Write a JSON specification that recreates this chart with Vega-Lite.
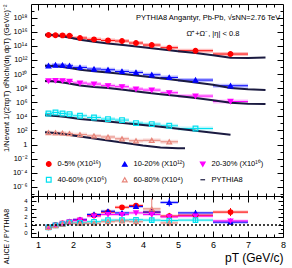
{
"$schema": "https://vega.github.io/schema/vega-lite/v6.json",
"autosize": {"type": "pad"},
"padding": {"left": 1, "top": 3, "right": 0, "bottom": 0},
"bounds": "flush",
"spacing": 0,
"background": "white",
"resolve": {"scale": {"color": "independent", "fill": "independent", "stroke": "independent", "shape": "independent", "size": "independent"}, "legend": {"color": "independent", "fill": "independent", "stroke": "independent", "shape": "independent", "size": "independent"}},
"config": {
  "view": {"stroke": "black", "strokeWidth": 1},
  "font": "Liberation Sans",
  "axis": {"domain": false, "grid": false, "labelFont": "Liberation Sans", "titleFont": "Liberation Sans", "tickColor": "black", "labelColor": "black", "titleColor": "black", "titleFontWeight": "normal", "tickWidth": 1}
},
"datasets": {
  "spec": [
    {"s": "0-5% (X10¹⁶)", "x": 1.3, "lo": 1.2, "hi": 1.4, "v": 3.4e15},
    {"s": "0-5% (X10¹⁶)", "x": 1.5, "lo": 1.4, "hi": 1.6, "v": 3.19e15},
    {"s": "0-5% (X10¹⁶)", "x": 1.7, "lo": 1.6, "hi": 1.8, "v": 2.99e15},
    {"s": "0-5% (X10¹⁶)", "x": 1.9, "lo": 1.8, "hi": 2.0, "v": 2.71e15},
    {"s": "0-5% (X10¹⁶)", "x": 2.2, "lo": 2.0, "hi": 2.4, "v": 1.28e15},
    {"s": "0-5% (X10¹⁶)", "x": 2.6, "lo": 2.4, "hi": 2.8, "v": 8.09e14},
    {"s": "0-5% (X10¹⁶)", "x": 3.0, "lo": 2.8, "hi": 3.2, "v": 5.84e14},
    {"s": "0-5% (X10¹⁶)", "x": 3.4, "lo": 3.2, "hi": 3.6, "v": 4.8e14},
    {"s": "0-5% (X10¹⁶)", "x": 3.8, "lo": 3.6, "hi": 4.0, "v": 2.5e14},
    {"s": "0-5% (X10¹⁶)", "x": 4.25, "lo": 4.0, "hi": 4.5, "v": 1.3e14},
    {"s": "0-5% (X10¹⁶)", "x": 4.75, "lo": 4.5, "hi": 5.0, "v": 5.37e13},
    {"s": "0-5% (X10¹⁶)", "x": 5.5, "lo": 5.0, "hi": 6.0, "v": 2.02e13},
    {"s": "0-5% (X10¹⁶)", "x": 6.5, "lo": 6.0, "hi": 7.0, "v": 6.87e12},
    {"s": "10-20% (X10¹²)", "x": 1.3, "lo": 1.2, "hi": 1.4, "v": 1.5e11},
    {"s": "10-20% (X10¹²)", "x": 1.5, "lo": 1.4, "hi": 1.6, "v": 1.89e11},
    {"s": "10-20% (X10¹²)", "x": 1.7, "lo": 1.6, "hi": 1.8, "v": 1.85e11},
    {"s": "10-20% (X10¹²)", "x": 1.9, "lo": 1.8, "hi": 2.0, "v": 1.5e11},
    {"s": "10-20% (X10¹²)", "x": 2.2, "lo": 2.0, "hi": 2.4, "v": 8.63e10},
    {"s": "10-20% (X10¹²)", "x": 2.6, "lo": 2.4, "hi": 2.8, "v": 5.12e10},
    {"s": "10-20% (X10¹²)", "x": 3.0, "lo": 2.8, "hi": 3.2, "v": 4.07e10},
    {"s": "10-20% (X10¹²)", "x": 3.4, "lo": 3.2, "hi": 3.6, "v": 2.34e10},
    {"s": "10-20% (X10¹²)", "x": 3.8, "lo": 3.6, "hi": 4.0, "v": 1.69e10},
    {"s": "10-20% (X10¹²)", "x": 4.25, "lo": 4.0, "hi": 4.5, "v": 7.96e9},
    {"s": "10-20% (X10¹²)", "x": 4.75, "lo": 4.5, "hi": 5.0, "v": 3.3e9},
    {"s": "10-20% (X10¹²)", "x": 5.5, "lo": 5.0, "hi": 6.0, "v": 1.41e9},
    {"s": "10-20% (X10¹²)", "x": 6.5, "lo": 6.0, "hi": 7.0, "v": 2.19e8},
    {"s": "20-30% (X10¹⁰)", "x": 1.3, "lo": 1.2, "hi": 1.4, "v": 1.05e9},
    {"s": "20-30% (X10¹⁰)", "x": 1.5, "lo": 1.4, "hi": 1.6, "v": 1.2e9},
    {"s": "20-30% (X10¹⁰)", "x": 1.7, "lo": 1.6, "hi": 1.8, "v": 1.12e9},
    {"s": "20-30% (X10¹⁰)", "x": 1.9, "lo": 1.8, "hi": 2.0, "v": 8.9e8},
    {"s": "20-30% (X10¹⁰)", "x": 2.2, "lo": 2.0, "hi": 2.4, "v": 5.29e8},
    {"s": "20-30% (X10¹⁰)", "x": 2.6, "lo": 2.4, "hi": 2.8, "v": 3.82e8},
    {"s": "20-30% (X10¹⁰)", "x": 3.0, "lo": 2.8, "hi": 3.2, "v": 2.19e8},
    {"s": "20-30% (X10¹⁰)", "x": 3.4, "lo": 3.2, "hi": 3.6, "v": 1.58e8},
    {"s": "20-30% (X10¹⁰)", "x": 3.8, "lo": 3.6, "hi": 4.0, "v": 7.45e7},
    {"s": "20-30% (X10¹⁰)", "x": 4.25, "lo": 4.0, "hi": 4.5, "v": 5.37e7},
    {"s": "20-30% (X10¹⁰)", "x": 4.75, "lo": 4.5, "hi": 5.0, "v": 2.23e7},
    {"s": "20-30% (X10¹⁰)", "x": 5.5, "lo": 5.0, "hi": 6.0, "v": 7.57e6},
    {"s": "20-30% (X10¹⁰)", "x": 6.5, "lo": 6.0, "hi": 7.0, "v": 1.3e6},
    {"s": "40-60% (X10⁶)", "x": 1.3, "lo": 1.2, "hi": 1.4, "v": 2.58e4},
    {"s": "40-60% (X10⁶)", "x": 1.5, "lo": 1.4, "hi": 1.6, "v": 3.57e4},
    {"s": "40-60% (X10⁶)", "x": 1.7, "lo": 1.6, "hi": 1.8, "v": 2.58e4},
    {"s": "40-60% (X10⁶)", "x": 1.9, "lo": 1.8, "hi": 2.0, "v": 2.12e4},
    {"s": "40-60% (X10⁶)", "x": 2.2, "lo": 2.0, "hi": 2.4, "v": 1.22e4},
    {"s": "40-60% (X10⁶)", "x": 2.6, "lo": 2.4, "hi": 2.8, "v": 6980},
    {"s": "40-60% (X10⁶)", "x": 3.0, "lo": 2.8, "hi": 3.2, "v": 4140},
    {"s": "40-60% (X10⁶)", "x": 3.4, "lo": 3.2, "hi": 3.6, "v": 2990},
    {"s": "40-60% (X10⁶)", "x": 3.8, "lo": 3.6, "hi": 4.0, "v": 1120},
    {"s": "40-60% (X10⁶)", "x": 4.25, "lo": 4.0, "hi": 4.5, "v": 809},
    {"s": "40-60% (X10⁶)", "x": 4.75, "lo": 4.5, "hi": 5.0, "v": 464},
    {"s": "40-60% (X10⁶)", "x": 5.5, "lo": 5.0, "hi": 6.0, "v": 192},
    {"s": "60-80% (X10⁴)", "x": 1.3, "lo": 1.2, "hi": 1.4, "v": 50},
    {"s": "60-80% (X10⁴)", "x": 1.5, "lo": 1.4, "hi": 1.6, "v": 48},
    {"s": "60-80% (X10⁴)", "x": 1.7, "lo": 1.6, "hi": 1.8, "v": 42},
    {"s": "60-80% (X10⁴)", "x": 1.9, "lo": 1.8, "hi": 2.0, "v": 36},
    {"s": "60-80% (X10⁴)", "x": 2.2, "lo": 2.0, "hi": 2.4, "v": 26},
    {"s": "60-80% (X10⁴)", "x": 2.6, "lo": 2.4, "hi": 2.8, "v": 17},
    {"s": "60-80% (X10⁴)", "x": 3.0, "lo": 2.8, "hi": 3.2, "v": 12},
    {"s": "60-80% (X10⁴)", "x": 3.4, "lo": 3.2, "hi": 3.6, "v": 6.6},
    {"s": "60-80% (X10⁴)", "x": 3.8, "lo": 3.6, "hi": 4.0, "v": 3.5},
    {"s": "60-80% (X10⁴)", "x": 4.25, "lo": 4.0, "hi": 4.5, "v": 4.1},
    {"s": "60-80% (X10⁴)", "x": 4.75, "lo": 4.5, "hi": 5.0, "v": 2.5}
  ],
  "pyt": [
    {"s": "0-5% (X10¹⁶)", "x": 1.2, "v": 3.76e15}, {"s": "0-5% (X10¹⁶)", "x": 1.4, "v": 3.4e15}, {"s": "0-5% (X10¹⁶)", "x": 1.6, "v": 2.71e15}, {"s": "0-5% (X10¹⁶)", "x": 1.8, "v": 1.83e15}, {"s": "0-5% (X10¹⁶)", "x": 2.0, "v": 1.2e15}, {"s": "0-5% (X10¹⁶)", "x": 2.2, "v": 7.33e14}, {"s": "0-5% (X10¹⁶)", "x": 2.6, "v": 3.82e14}, {"s": "0-5% (X10¹⁶)", "x": 3.0, "v": 2.19e14}, {"s": "0-5% (X10¹⁶)", "x": 3.5, "v": 1.22e14}, {"s": "0-5% (X10¹⁶)", "x": 4.0, "v": 6.33e13}, {"s": "0-5% (X10¹⁶)", "x": 4.5, "v": 3.3e13}, {"s": "0-5% (X10¹⁶)", "x": 5.0, "v": 1.71e13}, {"s": "0-5% (X10¹⁶)", "x": 5.5, "v": 9.53e12}, {"s": "0-5% (X10¹⁶)", "x": 6.0, "v": 4.65e12}, {"s": "0-5% (X10¹⁶)", "x": 6.5, "v": 2.05e12}, {"s": "0-5% (X10¹⁶)", "x": 7.0, "v": 1.86e12}, {"s": "0-5% (X10¹⁶)", "x": 7.5, "v": 2.26e12},
    {"s": "10-20% (X10¹²)", "x": 1.2, "v": 1.5e11}, {"s": "10-20% (X10¹²)", "x": 1.4, "v": 1.41e11}, {"s": "10-20% (X10¹²)", "x": 1.6, "v": 1.16e11}, {"s": "10-20% (X10¹²)", "x": 1.8, "v": 8.63e10}, {"s": "10-20% (X10¹²)", "x": 2.0, "v": 6.03e10}, {"s": "10-20% (X10¹²)", "x": 2.2, "v": 4.07e10}, {"s": "10-20% (X10¹²)", "x": 2.6, "v": 2.42e10}, {"s": "10-20% (X10¹²)", "x": 3.0, "v": 1.69e10}, {"s": "10-20% (X10¹²)", "x": 3.5, "v": 9.37e9}, {"s": "10-20% (X10¹²)", "x": 4.0, "v": 4.88e9}, {"s": "10-20% (X10¹²)", "x": 4.5, "v": 2.54e9}, {"s": "10-20% (X10¹²)", "x": 5.0, "v": 1.32e9}, {"s": "10-20% (X10¹²)", "x": 5.5, "v": 6.44e8}, {"s": "10-20% (X10¹²)", "x": 6.0, "v": 3.04e8}, {"s": "10-20% (X10¹²)", "x": 6.5, "v": 1.03e8}, {"s": "10-20% (X10¹²)", "x": 7.0, "v": 6.98e7}, {"s": "10-20% (X10¹²)", "x": 7.5, "v": 5.37e7},
    {"s": "20-30% (X10¹⁰)", "x": 1.2, "v": 1.02e9}, {"s": "20-30% (X10¹⁰)", "x": 1.4, "v": 9.52e8}, {"s": "20-30% (X10¹⁰)", "x": 1.6, "v": 7.57e8}, {"s": "20-30% (X10¹⁰)", "x": 1.8, "v": 5.47e8}, {"s": "20-30% (X10¹⁰)", "x": 2.0, "v": 3.69e8}, {"s": "20-30% (X10¹⁰)", "x": 2.2, "v": 2.34e8}, {"s": "20-30% (X10¹⁰)", "x": 2.6, "v": 1.43e8}, {"s": "20-30% (X10¹⁰)", "x": 3.0, "v": 1.03e8}, {"s": "20-30% (X10¹⁰)", "x": 3.5, "v": 5.37e7}, {"s": "20-30% (X10¹⁰)", "x": 4.0, "v": 2.62e7}, {"s": "20-30% (X10¹⁰)", "x": 4.5, "v": 1.36e7}, {"s": "20-30% (X10¹⁰)", "x": 5.0, "v": 7.57e6}, {"s": "20-30% (X10¹⁰)", "x": 5.5, "v": 3.94e6}, {"s": "20-30% (X10¹⁰)", "x": 6.0, "v": 1.92e6}, {"s": "20-30% (X10¹⁰)", "x": 6.5, "v": 8.49e5}, {"s": "20-30% (X10¹⁰)", "x": 7.0, "v": 6.12e5}, {"s": "20-30% (X10¹⁰)", "x": 7.5, "v": 5.56e5},
    {"s": "40-60% (X10⁶)", "x": 1.2, "v": 1.41e4}, {"s": "40-60% (X10⁶)", "x": 1.4, "v": 1.27e4}, {"s": "40-60% (X10⁶)", "x": 1.6, "v": 1.05e4}, {"s": "40-60% (X10⁶)", "x": 1.8, "v": 8050}, {"s": "40-60% (X10⁶)", "x": 2.0, "v": 5810}, {"s": "40-60% (X10⁶)", "x": 2.2, "v": 4190}, {"s": "40-60% (X10⁶)", "x": 2.6, "v": 2800}, {"s": "40-60% (X10⁶)", "x": 3.0, "v": 1890}, {"s": "40-60% (X10⁶)", "x": 3.5, "v": 1050}, {"s": "40-60% (X10⁶)", "x": 4.0, "v": 583}, {"s": "40-60% (X10⁶)", "x": 4.5, "v": 335}, {"s": "40-60% (X10⁶)", "x": 5.0, "v": 174}, {"s": "40-60% (X10⁶)", "x": 5.5, "v": 90.6}, {"s": "40-60% (X10⁶)", "x": 6.0, "v": 47.2}, {"s": "40-60% (X10⁶)", "x": 6.5, "v": 24.5},
    {"s": "60-80% (X10⁴)", "x": 1.2, "v": 55.6}, {"s": "60-80% (X10⁴)", "x": 1.4, "v": 47.2}, {"s": "60-80% (X10⁴)", "x": 1.6, "v": 36.3}, {"s": "60-80% (X10⁴)", "x": 1.8, "v": 26.2}, {"s": "60-80% (X10⁴)", "x": 2.0, "v": 18.9}, {"s": "60-80% (X10⁴)", "x": 2.2, "v": 13.6}, {"s": "60-80% (X10⁴)", "x": 2.6, "v": 7.1}, {"s": "60-80% (X10⁴)", "x": 3.0, "v": 3.69}, {"s": "60-80% (X10⁴)", "x": 3.5, "v": 1.75}, {"s": "60-80% (X10⁴)", "x": 4.0, "v": 0.776}, {"s": "60-80% (X10⁴)", "x": 4.5, "v": 0.404}, {"s": "60-80% (X10⁴)", "x": 5.0, "v": 0.299}, {"s": "60-80% (X10⁴)", "x": 5.2, "v": 0.299}
  ],
  "ratio": [
    {"s": "0-5% (X10¹⁶)", "x": 1.3, "lo": 1.2, "hi": 1.4, "r": 0.7, "e": 0.06},
    {"s": "0-5% (X10¹⁶)", "x": 1.5, "lo": 1.4, "hi": 1.6, "r": 1.0, "e": 0.07},
    {"s": "0-5% (X10¹⁶)", "x": 1.7, "lo": 1.6, "hi": 1.8, "r": 1.2, "e": 0.08},
    {"s": "0-5% (X10¹⁶)", "x": 1.9, "lo": 1.8, "hi": 2.0, "r": 1.4, "e": 0.1},
    {"s": "0-5% (X10¹⁶)", "x": 2.2, "lo": 2.0, "hi": 2.4, "r": 1.6, "e": 0.1},
    {"s": "0-5% (X10¹⁶)", "x": 2.6, "lo": 2.4, "hi": 2.8, "r": 2.2, "e": 0.15},
    {"s": "0-5% (X10¹⁶)", "x": 3.0, "lo": 2.8, "hi": 3.2, "r": 2.6, "e": 0.2},
    {"s": "0-5% (X10¹⁶)", "x": 3.4, "lo": 3.2, "hi": 3.6, "r": 3.2, "e": 0.25},
    {"s": "0-5% (X10¹⁶)", "x": 3.8, "lo": 3.6, "hi": 4.0, "r": 3.4, "e": 0.3},
    {"s": "0-5% (X10¹⁶)", "x": 4.25, "lo": 4.0, "hi": 4.5, "r": 2.6, "e": 0.35},
    {"s": "0-5% (X10¹⁶)", "x": 4.75, "lo": 4.5, "hi": 5.0, "r": 2.1, "e": 0.4},
    {"s": "0-5% (X10¹⁶)", "x": 5.5, "lo": 5.0, "hi": 6.0, "r": 2.2, "e": 0.35},
    {"s": "0-5% (X10¹⁶)", "x": 6.5, "lo": 6.0, "hi": 7.0, "r": 2.6, "e": 0.5},
    {"s": "10-20% (X10¹²)", "x": 1.3, "lo": 1.2, "hi": 1.4, "r": 0.68, "e": 0.05},
    {"s": "10-20% (X10¹²)", "x": 1.5, "lo": 1.4, "hi": 1.6, "r": 0.98, "e": 0.06},
    {"s": "10-20% (X10¹²)", "x": 1.7, "lo": 1.6, "hi": 1.8, "r": 1.15, "e": 0.07},
    {"s": "10-20% (X10¹²)", "x": 1.9, "lo": 1.8, "hi": 2.0, "r": 1.4, "e": 0.08},
    {"s": "10-20% (X10¹²)", "x": 2.2, "lo": 2.0, "hi": 2.4, "r": 1.65, "e": 0.1},
    {"s": "10-20% (X10¹²)", "x": 2.6, "lo": 2.4, "hi": 2.8, "r": 2.3, "e": 0.15},
    {"s": "10-20% (X10¹²)", "x": 3.0, "lo": 2.8, "hi": 3.2, "r": 2.7, "e": 0.2},
    {"s": "10-20% (X10¹²)", "x": 3.4, "lo": 3.2, "hi": 3.6, "r": 2.5, "e": 0.2},
    {"s": "10-20% (X10¹²)", "x": 3.8, "lo": 3.6, "hi": 4.0, "r": 3.3, "e": 0.25},
    {"s": "10-20% (X10¹²)", "x": 4.25, "lo": 4.0, "hi": 4.5, "r": 2.6, "e": 0.3},
    {"s": "10-20% (X10¹²)", "x": 4.75, "lo": 4.5, "hi": 5.0, "r": 3.8, "e": 0.5},
    {"s": "10-20% (X10¹²)", "x": 5.5, "lo": 5.0, "hi": 6.0, "r": 2.5, "e": 0.35},
    {"s": "10-20% (X10¹²)", "x": 6.5, "lo": 6.0, "hi": 7.0, "r": 1.35, "e": 0.3},
    {"s": "20-30% (X10¹⁰)", "x": 1.3, "lo": 1.2, "hi": 1.4, "r": 0.7, "e": 0.05},
    {"s": "20-30% (X10¹⁰)", "x": 1.5, "lo": 1.4, "hi": 1.6, "r": 0.95, "e": 0.06},
    {"s": "20-30% (X10¹⁰)", "x": 1.7, "lo": 1.6, "hi": 1.8, "r": 1.2, "e": 0.07},
    {"s": "20-30% (X10¹⁰)", "x": 1.9, "lo": 1.8, "hi": 2.0, "r": 1.4, "e": 0.08},
    {"s": "20-30% (X10¹⁰)", "x": 2.2, "lo": 2.0, "hi": 2.4, "r": 1.6, "e": 0.1},
    {"s": "20-30% (X10¹⁰)", "x": 2.6, "lo": 2.4, "hi": 2.8, "r": 2.1, "e": 0.15},
    {"s": "20-30% (X10¹⁰)", "x": 3.0, "lo": 2.8, "hi": 3.2, "r": 2.3, "e": 0.2},
    {"s": "20-30% (X10¹⁰)", "x": 3.4, "lo": 3.2, "hi": 3.6, "r": 2.3, "e": 0.2},
    {"s": "20-30% (X10¹⁰)", "x": 3.8, "lo": 3.6, "hi": 4.0, "r": 2.5, "e": 0.25},
    {"s": "20-30% (X10¹⁰)", "x": 4.25, "lo": 4.0, "hi": 4.5, "r": 2.3, "e": 0.3},
    {"s": "20-30% (X10¹⁰)", "x": 4.75, "lo": 4.5, "hi": 5.0, "r": 2.0, "e": 0.35},
    {"s": "20-30% (X10¹⁰)", "x": 5.5, "lo": 5.0, "hi": 6.0, "r": 2.1, "e": 0.3},
    {"s": "20-30% (X10¹⁰)", "x": 6.5, "lo": 6.0, "hi": 7.0, "r": 1.5, "e": 0.35},
    {"s": "40-60% (X10⁶)", "x": 1.3, "lo": 1.2, "hi": 1.4, "r": 0.7, "e": 0.05},
    {"s": "40-60% (X10⁶)", "x": 1.5, "lo": 1.4, "hi": 1.6, "r": 0.95, "e": 0.06},
    {"s": "40-60% (X10⁶)", "x": 1.7, "lo": 1.6, "hi": 1.8, "r": 1.1, "e": 0.07},
    {"s": "40-60% (X10⁶)", "x": 1.9, "lo": 1.8, "hi": 2.0, "r": 1.3, "e": 0.08},
    {"s": "40-60% (X10⁶)", "x": 2.2, "lo": 2.0, "hi": 2.4, "r": 1.25, "e": 0.1},
    {"s": "40-60% (X10⁶)", "x": 2.6, "lo": 2.4, "hi": 2.8, "r": 1.4, "e": 0.12},
    {"s": "40-60% (X10⁶)", "x": 3.0, "lo": 2.8, "hi": 3.2, "r": 1.6, "e": 0.15},
    {"s": "40-60% (X10⁶)", "x": 3.4, "lo": 3.2, "hi": 3.6, "r": 1.6, "e": 0.2},
    {"s": "40-60% (X10⁶)", "x": 3.8, "lo": 3.6, "hi": 4.0, "r": 1.65, "e": 0.25},
    {"s": "40-60% (X10⁶)", "x": 4.25, "lo": 4.0, "hi": 4.5, "r": 1.6, "e": 0.3},
    {"s": "40-60% (X10⁶)", "x": 4.75, "lo": 4.5, "hi": 5.0, "r": 1.55, "e": 0.3},
    {"s": "40-60% (X10⁶)", "x": 5.5, "lo": 5.0, "hi": 6.0, "r": 1.6, "e": 0.3},
    {"s": "60-80% (X10⁴)", "x": 1.3, "lo": 1.2, "hi": 1.4, "r": 0.7, "e": 0.06},
    {"s": "60-80% (X10⁴)", "x": 1.5, "lo": 1.4, "hi": 1.6, "r": 0.9, "e": 0.07},
    {"s": "60-80% (X10⁴)", "x": 1.7, "lo": 1.6, "hi": 1.8, "r": 1.1, "e": 0.08},
    {"s": "60-80% (X10⁴)", "x": 1.9, "lo": 1.8, "hi": 2.0, "r": 1.3, "e": 0.1},
    {"s": "60-80% (X10⁴)", "x": 2.2, "lo": 2.0, "hi": 2.4, "r": 1.2, "e": 0.1},
    {"s": "60-80% (X10⁴)", "x": 2.6, "lo": 2.4, "hi": 2.8, "r": 1.2, "e": 0.15},
    {"s": "60-80% (X10⁴)", "x": 3.0, "lo": 2.8, "hi": 3.2, "r": 1.4, "e": 0.2},
    {"s": "60-80% (X10⁴)", "x": 3.4, "lo": 3.2, "hi": 3.6, "r": 1.5, "e": 0.25},
    {"s": "60-80% (X10⁴)", "x": 3.8, "lo": 3.6, "hi": 4.0, "r": 1.4, "e": 0.3},
    {"s": "60-80% (X10⁴)", "x": 4.25, "lo": 4.0, "hi": 4.5, "r": 3.0, "e": 1.3},
    {"s": "60-80% (X10⁴)", "x": 4.75, "lo": 4.5, "hi": 5.0, "r": 1.25, "e": 0.4}
  ]
},
"vconcat": [
  {
    "width": 252, "height": 192,
    "resolve": {"axis": {"x": "independent", "y": "independent"}},
    "layer": [
      {
        "data": {"name": "spec"},
        "mark": {"type": "rect", "height": 4, "opacity": 0.25},
        "encoding": {
          "x": {"field": "lo", "type": "quantitative", "scale": {"domain": [0.8, 8], "nice": false, "zero": false}, "axis": {"orient": "bottom", "values": [1, 2, 3, 4, 5, 6, 7], "labels": false, "tickSize": -6, "title": null}},
          "x2": {"field": "hi"},
          "y": {"field": "v", "type": "quantitative", "scale": {"type": "log", "domain": [5.2e-8, 8.5e19], "nice": false},
            "axis": {"orient": "left", "values": [1e-6, 1e-4, 0.01, 1, 100, 1e4, 1e6, 1e8, 1e10, 1e12, 1e14, 1e16, 1e18, 1e19], "ticks": false, "labelPadding": 4, "labelFontSize": 7.5,
              "labelExpr": "datum.value == 1 ? '1' : '10' + replace(replace(replace(replace(replace(replace(replace(replace(replace(replace(replace('' + round(log(datum.value) / LN10), '-', '⁻'), '0', '⁰'), '1', '¹'), '2', '²'), '3', '³'), '4', '⁴'), '5', '⁵'), '6', '⁶'), '7', '⁷'), '8', '⁸'), '9', '⁹')",
              "title": "1/Nevent 1/(2πpT) d²Nch/(dη dpT) (GeV/c)⁻²", "titleFontSize": 7.5, "titleAngle": -90, "titleX": -25, "titleY": 0, "titleAlign": "right", "titleBaseline": "middle"}},
          "color": {"field": "s", "type": "nominal", "legend": null, "scale": {"domain": ["0-5% (X10¹⁶)", "10-20% (X10¹²)", "20-30% (X10¹⁰)", "40-60% (X10⁶)", "60-80% (X10⁴)"], "range": ["#ff0000", "#0000ff", "#ff00ff", "#00e0f0", "#e8857a"]}}
        }
      },
      {
        "data": {"name": "spec"},
        "mark": {"type": "rule", "strokeWidth": 1},
        "encoding": {
          "x": {"field": "lo", "type": "quantitative", "axis": {"orient": "top", "values": [1, 2, 3, 4, 5, 6, 7], "labels": false, "tickSize": -6, "title": null}},
          "x2": {"field": "hi"},
          "y": {"field": "v", "type": "quantitative", "axis": {"orient": "left", "values": [1e-6, 1e-4, 0.01, 1, 100, 1e4, 1e6, 1e8, 1e10, 1e12, 1e14, 1e16, 1e18], "labels": false, "tickSize": -6, "title": null}},
          "color": {"field": "s", "type": "nominal", "legend": null}
        }
      },
      {
        "data": {"name": "pyt"},
        "mark": {"type": "line", "strokeWidth": 2, "color": "#1a1a40"},
        "encoding": {
          "x": {"field": "x", "type": "quantitative", "axis": {"orient": "bottom", "values": [1.25, 1.5, 1.75, 2.25, 2.5, 2.75, 3.25, 3.5, 3.75, 4.25, 4.5, 4.75, 5.25, 5.5, 5.75, 6.25, 6.5, 6.75, 7.25, 7.5, 7.75], "labels": false, "tickSize": -3, "title": null}},
          "y": {"field": "v", "type": "quantitative", "axis": {"orient": "left", "values": [1e-7, 1e-5, 0.001, 0.1, 10, 1000, 1e5, 1e7, 1e9, 1e11, 1e13, 1e15, 1e17, 1e19], "labels": false, "tickSize": -3, "title": null}},
          "detail": {"field": "s"},
          "order": {"field": "x", "type": "quantitative"}
        }
      },
      {
        "data": {"name": "spec"},
        "mark": {"type": "point", "strokeWidth": 1.2, "opacity": 1},
        "encoding": {
          "x": {"field": "x", "type": "quantitative", "axis": {"orient": "top", "values": [1.25, 1.5, 1.75, 2.25, 2.5, 2.75, 3.25, 3.5, 3.75, 4.25, 4.5, 4.75, 5.25, 5.5, 5.75, 6.25, 6.5, 6.75, 7.25, 7.5, 7.75], "labels": false, "tickSize": -3, "title": null}},
          "y": {"field": "v", "type": "quantitative", "axis": {"orient": "right", "values": [1e-6, 1e-4, 0.01, 1, 100, 1e4, 1e6, 1e8, 1e10, 1e12, 1e14, 1e16, 1e18], "labels": false, "tickSize": -6, "title": null}},
          "fill": {"field": "s", "type": "nominal", "scale": {"domain": ["0-5% (X10¹⁶)", "10-20% (X10¹²)", "20-30% (X10¹⁰)", "40-60% (X10⁶)", "60-80% (X10⁴)", "PYTHIA8"], "range": ["#ff0000", "#0000ff", "#ff00ff", "transparent", "transparent", "transparent"]},
            "legend": {"title": null, "orient": "none", "legendX": 14, "legendY": 156, "direction": "horizontal", "columns": 3, "labelFontSize": 7.5, "labelFont": "Liberation Sans", "rowPadding": 6, "columnPadding": 13, "symbolStrokeWidth": 1.2, "labelOffset": 5}},
          "stroke": {"field": "s", "type": "nominal", "scale": {"domain": ["0-5% (X10¹⁶)", "10-20% (X10¹²)", "20-30% (X10¹⁰)", "40-60% (X10⁶)", "60-80% (X10⁴)", "PYTHIA8"], "range": ["#ff0000", "#0000ff", "#ff00ff", "#00e0f0", "#e8857a", "#1a1a40"]},
            "legend": {"title": null, "orient": "none", "legendX": 14, "legendY": 156, "direction": "horizontal", "columns": 3, "labelFontSize": 7.5, "labelFont": "Liberation Sans", "rowPadding": 6, "columnPadding": 13, "symbolStrokeWidth": 1.2, "labelOffset": 5}},
          "shape": {"field": "s", "type": "nominal", "scale": {"domain": ["0-5% (X10¹⁶)", "10-20% (X10¹²)", "20-30% (X10¹⁰)", "40-60% (X10⁶)", "60-80% (X10⁴)", "PYTHIA8"], "range": ["circle", "triangle-up", "triangle-down", "square", "triangle-up", "stroke"]},
            "legend": {"title": null, "orient": "none", "legendX": 14, "legendY": 156, "direction": "horizontal", "columns": 3, "labelFontSize": 7.5, "labelFont": "Liberation Sans", "rowPadding": 6, "columnPadding": 13, "symbolStrokeWidth": 1.2, "labelOffset": 5}},
          "size": {"field": "s", "type": "nominal", "scale": {"domain": ["0-5% (X10¹⁶)", "10-20% (X10¹²)", "20-30% (X10¹⁰)", "40-60% (X10⁶)", "60-80% (X10⁴)", "PYTHIA8"], "range": [22, 22, 22, 22, 22, 140]},
            "legend": {"title": null, "orient": "none", "legendX": 14, "legendY": 156, "direction": "horizontal", "columns": 3, "labelFontSize": 7.5, "labelFont": "Liberation Sans", "rowPadding": 6, "columnPadding": 13, "symbolStrokeWidth": 1.2, "labelOffset": 5}}
        }
      },
      {
        "data": {"values": [{}]},
        "mark": {"type": "text", "text": "PYTHIA8 Angantyr, Pb-Pb, √sNN=2.76 TeV", "align": "right", "baseline": "middle", "fontSize": 7.5, "font": "Liberation Sans"},
        "encoding": {
          "x": {"datum": 7.92, "type": "quantitative", "axis": null},
          "y": {"datum": 1e18, "type": "quantitative", "axis": {"orient": "right", "values": [1e-7, 1e-5, 0.001, 0.1, 10, 1000, 1e5, 1e7, 1e9, 1e11, 1e13, 1e15, 1e17, 1e19], "labels": false, "tickSize": -3, "title": null}}
        }
      },
      {
        "data": {"values": [{}]},
        "mark": {"type": "text", "text": "Ω̄⁺+Ω⁻, |η| < 0.8", "align": "center", "baseline": "middle", "fontSize": 7.5, "font": "Liberation Sans"},
        "encoding": {
          "x": {"datum": 6.0, "type": "quantitative", "axis": null},
          "y": {"datum": 5.2e15, "type": "quantitative", "axis": null}
        }
      }
    ]
  },
  {
    "width": 252, "height": 41,
    "resolve": {"axis": {"x": "independent", "y": "independent"}},
    "layer": [
      {
        "data": {"name": "ratio"},
        "mark": {"type": "rect", "height": 3, "opacity": 0.25},
        "encoding": {
          "x": {"field": "lo", "type": "quantitative", "scale": {"domain": [0.8, 8], "nice": false, "zero": false},
            "axis": {"orient": "bottom", "values": [1, 2, 3, 4, 5, 6, 7, 8], "ticks": false, "labelFontSize": 9, "labelPadding": 3, "labelFlush": false,
              "title": "pT (GeV/c)", "titleFontSize": 12, "titleX": 252, "titleY": 24, "titleAlign": "right", "titleBaseline": "alphabetic"}},
          "x2": {"field": "hi"},
          "y": {"field": "r", "type": "quantitative", "scale": {"domain": [-0.5, 4.6], "nice": false, "zero": false},
            "axis": {"orient": "left", "values": [0, 1, 2, 3, 4], "ticks": false, "labelFontSize": 6, "labelPadding": 4,
              "title": "ALICE / PYTHIA8", "titleFontSize": 7, "titleAngle": -90, "titleX": -25, "titleY": 40, "titleAlign": "center", "titleBaseline": "middle"}},
          "color": {"field": "s", "type": "nominal", "legend": null, "scale": {"domain": ["0-5% (X10¹⁶)", "10-20% (X10¹²)", "20-30% (X10¹⁰)", "40-60% (X10⁶)", "60-80% (X10⁴)"], "range": ["#ff0000", "#0000ff", "#ff00ff", "#00e0f0", "#e8857a"]}}
        }
      },
      {
        "data": {"name": "ratio"},
        "mark": {"type": "errorbar", "ticks": false, "thickness": 1},
        "encoding": {
          "x": {"field": "x", "type": "quantitative", "axis": {"orient": "bottom", "values": [1, 2, 3, 4, 5, 6, 7], "labels": false, "tickSize": -6, "title": null}},
          "y": {"field": "r", "type": "quantitative", "axis": {"orient": "left", "values": [0, 1, 2, 3, 4], "labels": false, "tickSize": -5, "title": null}},
          "yError": {"field": "e"},
          "color": {"field": "s", "type": "nominal", "legend": null}
        }
      },
      {
        "data": {"name": "ratio"},
        "mark": {"type": "rule", "strokeWidth": 1},
        "encoding": {
          "x": {"field": "lo", "type": "quantitative", "axis": {"orient": "bottom", "values": [1.25, 1.5, 1.75, 2.25, 2.5, 2.75, 3.25, 3.5, 3.75, 4.25, 4.5, 4.75, 5.25, 5.5, 5.75, 6.25, 6.5, 6.75, 7.25, 7.5, 7.75], "labels": false, "tickSize": -3, "title": null}},
          "x2": {"field": "hi"},
          "y": {"field": "r", "type": "quantitative", "axis": {"orient": "left", "values": [-0.5, 0.5, 1.5, 2.5, 3.5, 4.5], "labels": false, "tickSize": -2.5, "title": null}},
          "color": {"field": "s", "type": "nominal", "legend": null}
        }
      },
      {
        "data": {"name": "ratio"},
        "mark": {"type": "point", "strokeWidth": 1.2, "opacity": 1},
        "encoding": {
          "x": {"field": "x", "type": "quantitative", "axis": {"orient": "top", "values": [1, 2, 3, 4, 5, 6, 7], "labels": false, "tickSize": -6, "title": null}},
          "y": {"field": "r", "type": "quantitative", "axis": {"orient": "right", "values": [0, 1, 2, 3, 4], "labels": false, "tickSize": -5, "title": null}},
          "fill": {"field": "s", "type": "nominal", "legend": null, "scale": {"domain": ["0-5% (X10¹⁶)", "10-20% (X10¹²)", "20-30% (X10¹⁰)", "40-60% (X10⁶)", "60-80% (X10⁴)"], "range": ["#ff0000", "#0000ff", "#ff00ff", "transparent", "transparent"]}},
          "stroke": {"field": "s", "type": "nominal", "legend": null, "scale": {"domain": ["0-5% (X10¹⁶)", "10-20% (X10¹²)", "20-30% (X10¹⁰)", "40-60% (X10⁶)", "60-80% (X10⁴)"], "range": ["#ff0000", "#0000ff", "#ff00ff", "#00e0f0", "#e8857a"]}},
          "shape": {"field": "s", "type": "nominal", "legend": null, "scale": {"domain": ["0-5% (X10¹⁶)", "10-20% (X10¹²)", "20-30% (X10¹⁰)", "40-60% (X10⁶)", "60-80% (X10⁴)"], "range": ["circle", "triangle-up", "triangle-down", "square", "triangle-up"]}},
          "size": {"value": 20}
        }
      },
      {
        "data": {"values": [{}]},
        "mark": {"type": "rule", "strokeDash": [2, 2], "strokeWidth": 1.5, "color": "black"},
        "encoding": {
          "x": {"datum": 0.8, "type": "quantitative", "axis": {"orient": "top", "values": [1.25, 1.5, 1.75, 2.25, 2.5, 2.75, 3.25, 3.5, 3.75, 4.25, 4.5, 4.75, 5.25, 5.5, 5.75, 6.25, 6.5, 6.75, 7.25, 7.5, 7.75], "labels": false, "tickSize": -3, "title": null}},
          "x2": {"datum": 8},
          "y": {"datum": 1, "type": "quantitative", "axis": {"orient": "right", "values": [-0.5, 0.5, 1.5, 2.5, 3.5, 4.5], "labels": false, "tickSize": -2.5, "title": null}}
        }
      }
    ]
  }
]
}
